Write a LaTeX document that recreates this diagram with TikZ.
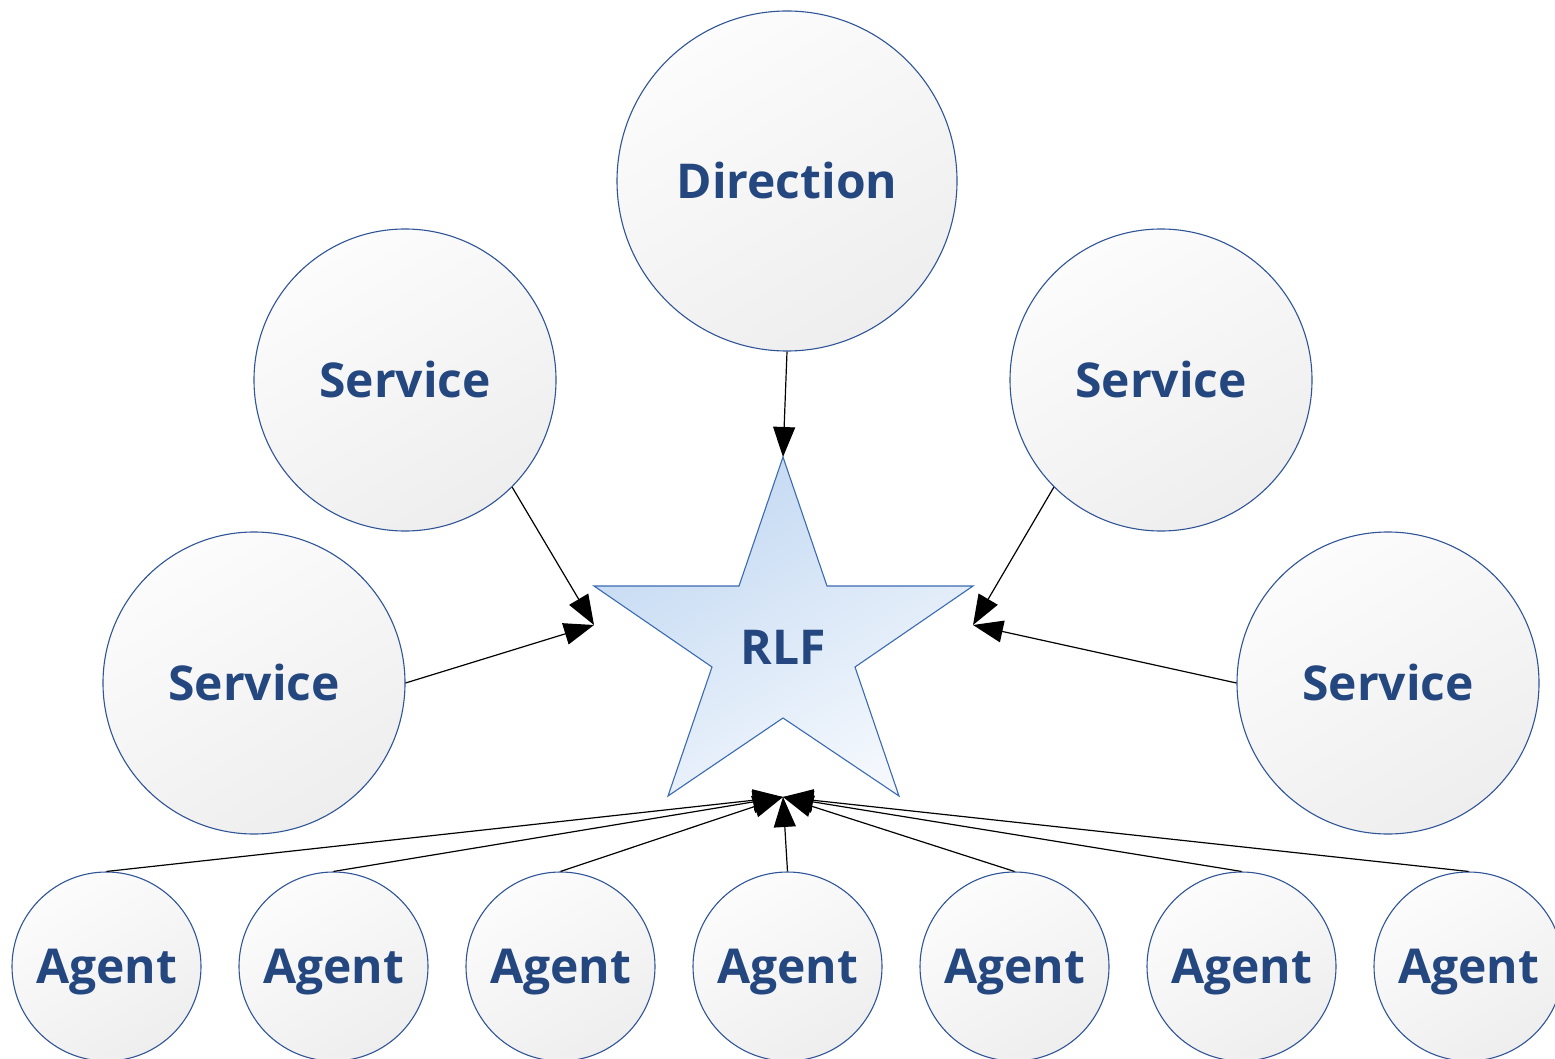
\documentclass[tikz,border=0pt]{standalone}
\usepackage{fontspec}
\setmainfont{Open Sans}
\usetikzlibrary{arrows.meta}
\definecolor{txtblue}{HTML}{24477F}
\definecolor{rimblue}{HTML}{2F5597}
\definecolor{starrim}{HTML}{3A6AB0}
\definecolor{lightA}{HTML}{FCFCFC}
\definecolor{lightB}{HTML}{EFEEEF}
\definecolor{starA}{HTML}{C2D8F2}
\definecolor{starB}{HTML}{F4F8FD}
\tikzset{
  label text/.style={font=\fontsize{48}{58}\selectfont\bfseries, text=txtblue, text height=34.3pt, text depth=0pt},
  bubble/.style={circle, draw=rimblue, line width=1.1pt, top color=lightA, bottom color=lightB, shading angle=30,
    inner sep=0pt, label text},
  big/.style={bubble, minimum size=340pt},
  mid/.style={bubble, minimum size=302pt},
  small/.style={bubble, minimum size=189pt},
  link/.style={line width=1.2pt, draw=black, -{Triangle[length=30pt,width=22pt]}},
}
\begin{document}
\begin{tikzpicture}[x=1pt,y=-1pt]
\useasboundingbox (0,0) rectangle (1555,1059);
% star
\shade[top color=starA, bottom color=starB, shading angle=30, draw=starrim, line width=1.1pt]
  (783,457) -- (827,586) -- (973,586) -- (855,667) -- (899,796) -- (783,718) -- (668,796) -- (712,667) -- (594,586) -- (739,586) -- cycle;
\node[label text, inner sep=0pt] (rlf) at (783,647) {RLF};
\coordinate (sTop) at (783,457);
\coordinate (sLeft) at (594,625);
\coordinate (sRight) at (973,625);
\coordinate (sBot) at (783,797);
% nodes
\node[big] (dir) at (787,181) {Direction};
\node[mid] (s1) at (405,380) {Service};
\node[mid] (s2) at (1161,380) {Service};
\node[mid] (s3) at (254,683) {Service};
\node[mid] (s4) at (1388,683) {Service};
\foreach \i/\x in {1/106.5,2/333.5,3/560.5,4/787.5,5/1014.5,6/1241.5,7/1468.5}{
  \node[small] (a\i) at (\x,966.5) {Agent};
}
% connectors
\draw[link] (dir.south) -- (sTop);
\draw[link] (s1.-45) -- (sLeft);
\draw[link] (s3.east) -- (sLeft);
\draw[link] (s2.-135) -- (sRight);
\draw[link] (s4.west) -- (sRight);
\foreach \i in {1,...,7}{
  \draw[link] (a\i.north) -- (sBot);
}
\end{tikzpicture}
\end{document}
